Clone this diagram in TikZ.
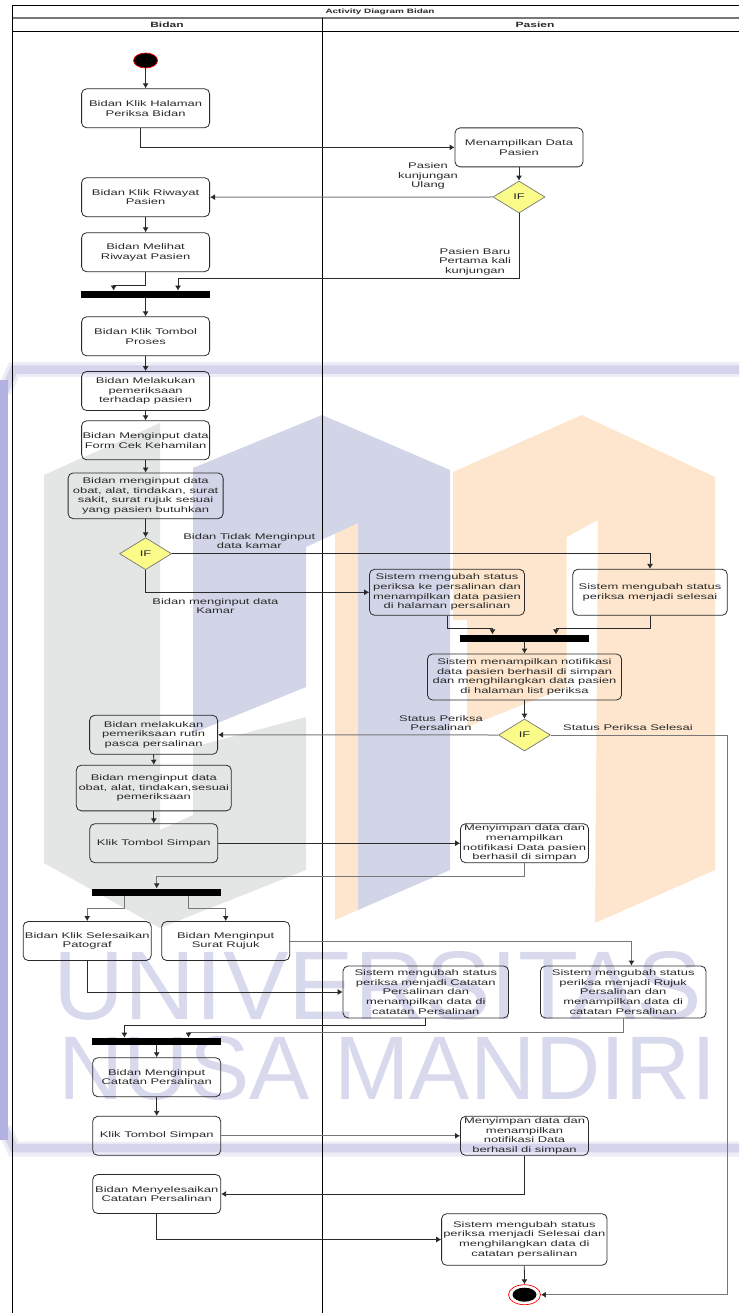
\documentclass[tikz,border=0pt]{standalone}
\usepackage{fontspec}
\usepackage{graphicx}
\setmainfont{Liberation Sans}[FakeStretch=1.58]
\newfontfamily\markfont{Liberation Sans}
\usetikzlibrary{arrows.meta}
\usetikzlibrary{shapes.geometric}
\definecolor{markgray}{HTML}{E4E5E5}
\definecolor{markblue}{HTML}{D2D4E8}
\definecolor{markorange}{HTML}{FDE6CD}
\definecolor{markband}{HTML}{D4D4EC}
\definecolor{marktext}{HTML}{D9D9EE}
\definecolor{markfade}{HTML}{EDEDF7}
\definecolor{markside}{HTML}{B2B2E2}
\definecolor{ifyellow}{HTML}{FBFB8A}
\definecolor{inkline}{HTML}{2A2A2A}
\definecolor{softline}{HTML}{777777}
\tikzstyle{every node}=[font=\fontsize{8.2}{9.7}\selectfont,text=inkline,align=center,inner sep=0pt]
\tikzstyle{act}=[draw=inkline,line width=0.8pt,rounded corners=5pt,minimum width=128pt,minimum height=39pt]
\tikzstyle{bar}=[fill=black,minimum width=129pt,minimum height=7.2pt]
\tikzstyle{choice}=[diamond,draw=softline,fill=ifyellow,line width=0.7pt,shape aspect=1.6,minimum width=52pt,minimum height=32pt]
\tikzstyle{link}=[->,line width=0.8pt,draw=inkline]
\tikzstyle{softlink}=[-{Latex[length=5pt,width=6pt,color=inkline]},line width=1pt,draw=softline]
\tikzstyle{lane}=[line width=0.7pt,draw=black]
\tikzset{>={Latex[length=5pt,width=6pt]}}

\begin{document}
\begin{tikzpicture}[x=1pt,y=-1pt]
  \useasboundingbox (0,0) rectangle (739,1313);
  \fill[markgray] (44,475)--(160,423)--(160,830)--(193,815)--(193,747)--(306,717)--(306,870)
    --(160,928)--(44,863)--cycle;
  \fill[markorange] (335,533)--(358,523)--(358,910)--(335,920)--cycle;
  \fill[markorange] (453,472)--(581.7,415)--(715,477)--(715,870)--(595,923)--(598,520)--(566.7,537)
    --(566.7,687)--(467,727)--(467,620)--(453,620)--cycle;
  \fill[markblue] (193,468)--(322,415)--(450,470)--(450,870)--(358,910)--(358,523)--(306,547)
    --(306,687)--(193,733)--cycle;
  \draw[markfade,line width=15pt] (739,369.5)--(14,369.5)--(4,392);
  \draw[markfade,line width=15pt] (4,1128)--(14,1149)--(739,1149);
  \draw[markband,line width=8.5pt] (739,369.5)--(14,369.5)--(4,392);
  \draw[markband,line width=8.5pt] (4,1128)--(14,1148)--(739,1148);
  \draw[markside,line width=8pt] (4,380)--(4,1140);
  \node (markone) at (378,986) {\color{marktext}\resizebox{648pt}{68pt}{\markfont UNIVERSITAS}};
  \node (marktwo) at (387.5,1068.5) {\color{marktext}\resizebox{657pt}{63pt}{\markfont NUSA MANDIRI}};

  \draw[lane] (739,5)--(12.5,5)--(12.5,1313);
  \draw[draw=softline,line width=1.1pt] (12.5,18)--(739,18);
  \draw[lane] (12.5,31)--(739,31);
  \draw[lane] (322,18)--(322,1313);
  \node[font=\fontsize{6.3}{8}\selectfont\bfseries] (title) at (380,11.5) {Activity Diagram Bidan};
  \node[font=\fontsize{7.6}{9.6}\selectfont\bfseries] (lanebidan) at (167,24.5) {Bidan};
  \node[font=\fontsize{7.6}{9.6}\selectfont\bfseries] (lanepasien) at (535,24.5) {Pasien};

  \node[ellipse,draw=red,fill=black,line width=0.7pt,minimum width=24pt,minimum height=15pt] (startdot) at (145.6,60.5) {};
  \node[act] (halaman) at (145.6,108.3) {Bidan Klik Halaman\\Periksa Bidan};
  \node[act] (tampil) at (519,147.4) {Menampilkan Data\\Pasien};
  \node[choice] (kunjungan) at (519,197) {IF};
  \node[act] (riwayat) at (145.6,197.2) {Bidan Klik Riwayat\\Pasien};
  \node[act] (melihat) at (145.6,252.2) {Bidan Melihat\\Riwayat Pasien};
  \node[bar] (joinA) at (145.6,294.4) {};
  \node[act] (proses) at (145.6,336.3) {Bidan Klik Tombol\\Proses};
  \node[act] (periksa) at (145.6,391) {Bidan Melakukan\\pemeriksaan\\terhadap pasien};
  \node[act] (formcek) at (145.6,440.3) {Bidan Menginput data\\Form Cek Kehamilan};
  \node[act,minimum width=155pt,minimum height=45.7pt] (resep) at (145.6,495.8) {Bidan menginput data\\obat, alat, tindakan, surat\\sakit, surat rujuk sesuai\\yang pasien butuhkan};
  \node[choice] (kamar) at (145.6,553.7) {IF};
  \node[act,minimum width=155pt,minimum height=46pt] (statusp) at (447,592.3) {Sistem mengubah status\\periksa ke persalinan dan\\menampilkan data pasien\\di halaman persalinan};
  \node[act,minimum width=154.4pt,minimum height=46pt] (statuss) at (650,592.3) {Sistem mengubah status\\periksa menjadi selesai};
  \node[bar] (joinB) at (524.5,638.2) {};
  \node[act,minimum width=194pt,minimum height=46pt] (notif) at (524.5,677) {Sistem menampilkan notifikasi\\data pasien berhasil di simpan\\dan menghilangkan data pasien\\di halaman list periksa};
  \node[choice] (hasil) at (524.5,735) {IF};
  \node[act] (rutin) at (153.6,734.8) {Bidan melakukan\\pemeriksaan rutin\\pasca persalinan};
  \node[act,minimum width=155pt,minimum height=45.7pt] (obat) at (153.8,788) {Bidan menginput data\\obat, alat, tindakan,sesuai\\pemeriksaan};
  \node[act] (simpanA) at (153.8,843.2) {Klik Tombol Simpan};
  \node[act] (notifA) at (524.5,843.2) {Menyimpan data dan\\menampilkan\\notifikasi Data pasien\\berhasil di simpan};
  \node[bar] (joinC) at (156.7,892.2) {};
  \node[act] (patograf) at (87.2,941) {Bidan Klik Selesaikan\\Patograf};
  \node[act] (rujuk) at (225.7,941) {Bidan Menginput\\Surat Rujuk};
  \node[act,minimum width=165.5pt,minimum height=52pt] (catatan) at (425.8,992) {Sistem mengubah status\\periksa menjadi Catatan\\Persalinan dan\\menampilkan data di\\catatan Persalinan};
  \node[act,minimum width=165.5pt,minimum height=52pt] (ubahrujuk) at (623.2,992) {Sistem mengubah status\\periksa menjadi Rujuk\\Persalinan dan\\menampilkan data di\\catatan Persalinan};
  \node[bar] (joinD) at (156.7,1041.5) {};
  \node[act] (input) at (156.7,1077.2) {Bidan Menginput\\Catatan Persalinan};
  \node[act] (simpanB) at (156.7,1135.8) {Klik Tombol Simpan};
  \node[act] (notifB) at (524.5,1135.8) {Menyimpan data dan\\menampilkan\\notifikasi Data\\berhasil di simpan};
  \node[act] (selesai) at (156.7,1194) {Bidan Menyelesaikan\\Catatan Persalinan};
  \node[act,minimum width=165.4pt,minimum height=51.6pt] (akhir) at (524.3,1239.5) {Sistem mengubah status\\periksa menjadi Selesai dan\\menghilangkan data di\\catatan persalinan};
  \node[ellipse,draw=red,line width=0.7pt,minimum width=32pt,minimum height=20pt] (endring) at (524.5,1294.7) {};
  \node[ellipse,fill=black,minimum width=24pt,minimum height=14pt] (enddot) at (endring.center) {};

  \node (lblulang) at (428,176) {Pasien\\kunjungan\\Ulang};
  \node (lblbaru) at (475,261.7) {Pasien Baru\\Pertama kali\\kunjungan};
  \node (lbltidak) at (249.3,541) {Bidan Tidak Menginput\\data kamar};
  \node (lblkamar) at (215.4,606) {Bidan menginput data\\Kamar};
  \node (lblproses) at (441,723) {Status Periksa\\Persalinan};
  \node (lblselesai) at (628,727.7) {Status Periksa Selesai};

  \draw[link] (startdot.south)--(halaman.north);
  \draw[link] ([xshift=-5pt]halaman.south) |- (tampil.west);
  \draw[link] (tampil.south)--(kunjungan.north);
  \draw[softlink] (kunjungan.west)--(riwayat.east);
  \draw[link] (kunjungan.south)-- ++(0,65) -| ([xshift=32.4pt]joinA.north);
  \draw[link] (riwayat.south)--(melihat.north);
  \draw[link] (melihat.south)-- ++(0,13) -| ([xshift=-32pt]joinA.north);
  \draw[link] (joinA.south)--(proses.north);
  \draw[link] (proses.south)--(periksa.north);
  \draw[link] (periksa.south)--(formcek.north);
  \draw[link] (formcek.south)--(resep.north);
  \draw[link] (resep.south)--(kamar.north);
  \draw[link] (kamar.south) |- (statusp.west);
  \draw[link] (kamar.east) -| (statuss.north);
  \draw[link] (statusp.south)-- ++(0,13) -| ([xshift=-32pt]joinB.north);
  \draw[link] (statuss.south)-- ++(0,13) -| ([xshift=31.5pt]joinB.north);
  \draw[link] (joinB.south)--(notif.north);
  \draw[link] (notif.south)--(hasil.north);
  \draw[softlink] (hasil.west)--(rutin.east);
  \draw[softlink] (hasil.east)-- ++(176.5,0) |- (endring.east);
  \draw[link] (rutin.south)--(obat.north);
  \draw[link] (obat.south)--(simpanA.north);
  \draw[link] (simpanA.east)--(notifA.west);
  \draw[softlink] (notifA.south)-- ++(0,13.3) -| (joinC.north);
  \draw[softlink] ([xshift=-32.3pt]joinC.south)-- ++(0,12) -| (patograf.north);
  \draw[softlink] ([xshift=31.8pt]joinC.south)-- ++(0,12) -| (rujuk.north);
  \draw[link] (patograf.south) |- (catatan.west);
  \draw[softlink] (rujuk.east) -| ([xshift=8.3pt]ubahrujuk.north);
  \draw[link] (catatan.south)-- ++(0,7) -| ([xshift=-32.3pt]joinD.north);
  \draw[softlink] (ubahrujuk.south)-- ++(0,14) -| ([xshift=31.8pt]joinD.north);
  \draw[link] (joinD.south)--(input.north);
  \draw[link] (input.south)--(simpanB.north);
  \draw[softlink] (simpanB.east)--(notifB.west);
  \draw[link] (notifB.south) |- (selesai.east);
  \draw[link] (selesai.south) |- (akhir.west);
  \draw[link] (akhir.south)--(endring.north);
\end{tikzpicture}
\end{document}
